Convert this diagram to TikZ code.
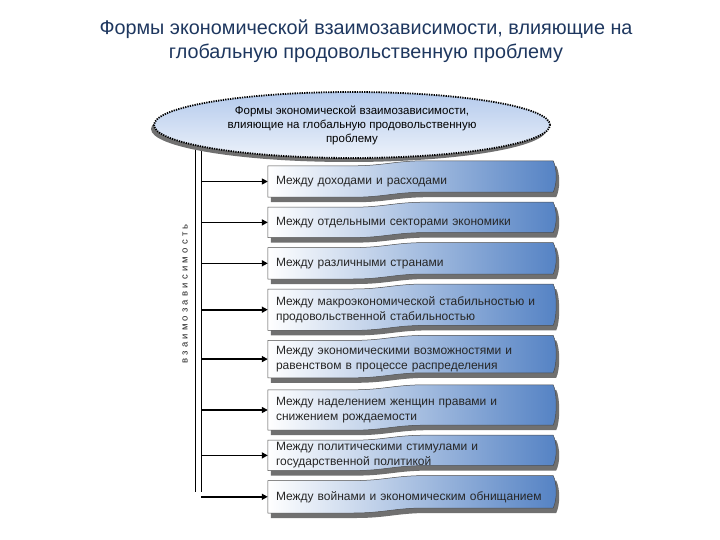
\documentclass[tikz,border=0pt]{standalone}
\usepackage{fontspec}
\setmainfont{Liberation Sans}
\usepackage{tikz}
\usetikzlibrary{shapes.geometric, arrows.meta, positioning, calc, backgrounds, shadows}
\definecolor{cTitle}{RGB}{30,55,95}
\definecolor{cBlue}{RGB}{84,130,196}
\definecolor{cOval}{RGB}{180,202,236}
\definecolor{cShade}{RGB}{112,112,112}
\newcommand{\wavepath}[2]{%
	($(#1.north west)+(#2)$) -- ($(#1.north west)!.3!(#1.north east)+(#2)$)
	.. controls +(30pt,0pt) and +(-30pt,0pt) .. ($(#1.north west)!.55!(#1.north east)+(#2)+(0pt,5pt)$)
	-- ($(#1.north east)+(#2)+(0pt,5pt)$)
	.. controls +(4pt,-8pt) and +(4pt,8pt) .. ($(#1.south east)+(#2)+(0pt,5pt)$)
	-- ($(#1.south west)!.55!(#1.south east)+(#2)+(0pt,5pt)$)
	.. controls +(-30pt,0pt) and +(30pt,0pt) .. ($(#1.south west)!.3!(#1.south east)+(#2)$)
	-- ($(#1.south west)+(#2)$) -- cycle}
\tikzset{
	ttl/.style   ={align=center, text=cTitle, font=\fontsize{19.8}{24.5}\selectfont},
	oval/.style  ={ellipse, minimum width=396pt, minimum height=66pt, align=center, inner sep=0pt, top color=cOval, bottom color=cOval!25, draw=black, line width=1.8pt, dash pattern=on 1.3pt off 1.1pt, font=\fontsize{11.5}{14}\selectfont, drop shadow={shadow xshift=-3pt, shadow yshift=-4pt, fill=cShade, opacity=1}},
	wbox/.style  ={rectangle, text width=269pt, inner xsep=8pt, inner ysep=1pt, align=left, font=\fontsize{12}{15}\selectfont, text=black!85},
	wfill/.style ={left color=white, right color=cBlue},
	wshadow/.style={fill=cShade},
	wline/.style ={draw=black!70, line width=0.5pt},
	feed/.style  ={-{Triangle[length=6pt, width=6pt]}, line width=1.6pt},
	trunk/.style ={line width=0.8pt},
}
\begin{document}
\begin{tikzpicture}[x=1pt, y=-1pt,
					vlabel/.style={rotate=90, font=\fontsize{9.5}{9.5}\selectfont\addfontfeature{LetterSpace=34}, text=black!85}]
	\useasboundingbox (0,0) rectangle (720,540);
	\node[ttl] (title) at (366,41) {Формы экономической взаимозависимости, влияющие на\\глобальную продовольственную проблему};
	\node[oval] (fe) at (352,125) {Формы экономической взаимозависимости,\\влияющие на глобальную продовольственную\\проблему};
	\node[wbox, minimum height=31pt] (b1) at (410.5,181.5) {Между доходами и расходами};
	\node[wbox, minimum height=30pt, below=10pt of b1] (b2) {Между отдельными секторами экономики};
	\node[wbox, minimum height=31pt, below=10pt of b2] (b3) {Между различными странами};
	\node[wbox, minimum height=41pt, below=10pt of b3] (b4) {Между макроэкономической стабильностью и\\продовольственной стабильностью};
	\node[wbox, minimum height=37pt, below=10pt of b4] (b5) {Между экономическими возможностями и\\равенством в процессе распределения};
	\node[wbox, minimum height=40pt, below=12pt of b5] (b6) {Между наделением женщин правами и\\снижением рождаемости};
	\node[wbox, minimum height=30pt, below=10pt of b6] (b7) {Между политическими стимулами и\\государственной политикой};
	\node[wbox, minimum height=32pt, below=10pt of b7] (b8) {Между войнами и экономическим обнищанием};
	\node[vlabel] (lbl) at (185,294) {взаимозависимость};
	\coordinate (taTop) at (195,145);
	\coordinate (taBot) at (195,492);
	\coordinate (tbTop) at (201,145);
	\coordinate (tbBot) at (201,492);
	\begin{scope}[on background layer]
		\draw[trunk] (taTop) -- (taBot);
		\draw[trunk] (tbTop) -- (tbBot);
		\foreach \i in {1,...,8} {
			\fill[wshadow] \wavepath{b\i}{3pt,-5pt};
			\shade[wfill] \wavepath{b\i}{0pt,0pt};
			\draw[wline] \wavepath{b\i}{0pt,0pt};
		}
	\end{scope}
	\foreach \i in {1,...,8}
		\draw[feed] (b\i.west -| tbTop) -- (b\i.west);
\end{tikzpicture}
\end{document}
